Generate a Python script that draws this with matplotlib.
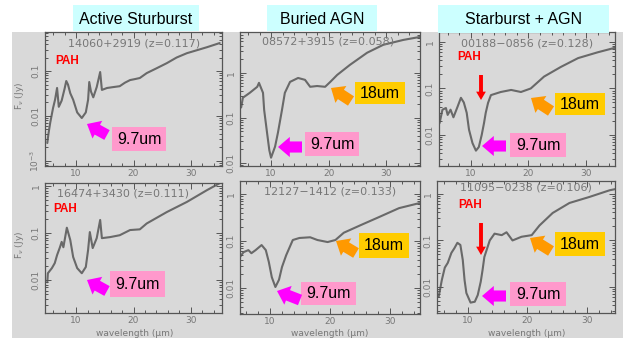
import matplotlib
matplotlib.use('Agg')
import matplotlib.pyplot as plt
from matplotlib.patches import Rectangle, FancyArrowPatch
from matplotlib.ticker import FixedLocator, LogLocator, MultipleLocator, FuncFormatter, NullFormatter

# ---------------- data ----------------
group_titles = ["Active Sturburst", "Buried AGN", "Starburst + AGN"]
panel_names = ["14060+2919 (z=0.117)", "08572+3915 (z=0.058)", "00188\u22120856 (z=0.128)",
               "16474+3430 (z=0.111)", "12127\u22121412 (z=0.133)", "11095\u22120238 (z=0.106)"]

lam1 = [5.0, 5.2, 5.5, 6.0, 6.35, 6.7, 7.0, 7.5, 8.0, 8.3, 8.6, 9.0, 9.5, 10.2, 11.0, 11.7, 12.1, 12.3,
        12.6, 13.0, 13.6, 14.2, 14.5, 15.4, 16.5, 17.6, 18.5, 19.4, 20.2, 21.1, 22.3, 24.0, 25.8, 27.5,
        29.3, 31.0, 32.8, 35.0]
flux1 = [0.0025, 0.004, 0.007, 0.015, 0.023, 0.042, 0.016, 0.022, 0.04, 0.06, 0.05, 0.032, 0.023, 0.012,
         0.009, 0.012, 0.023, 0.057, 0.035, 0.026, 0.044, 0.095, 0.038, 0.042, 0.044, 0.046, 0.055, 0.063,
         0.066, 0.07, 0.09, 0.115, 0.15, 0.2, 0.25, 0.29, 0.34, 0.42]

lam2 = [4.8, 5.1, 6.3, 7.6, 7.9, 8.6, 8.8, 9.3, 9.7, 10.0, 10.7, 11.2, 11.9, 12.4, 13.3, 14.7, 15.9,
        16.8, 18.0, 19.4, 20.3, 21.5, 23.7, 26.7, 29.5, 33.0, 35.9]
flux2 = [0.17, 0.28, 0.36, 0.49, 0.6, 0.36, 0.15, 0.047, 0.019, 0.013, 0.023, 0.047, 0.15, 0.36, 0.63,
         0.77, 0.7, 0.49, 0.51, 0.49, 0.63, 0.9, 1.5, 2.8, 4.2, 5.4, 6.3]

lam3 = [4.6, 5.1, 5.7, 6.0, 6.5, 7.0, 7.7, 8.3, 8.8, 9.3, 9.7, 10.3, 10.9, 11.4, 11.9, 12.3, 12.6, 13.0,
        13.5, 15.2, 17.0, 18.7, 20.4, 22.7, 25.6, 28.6, 32.0, 35.5]
flux3 = [0.018, 0.035, 0.038, 0.027, 0.035, 0.024, 0.04, 0.063, 0.05, 0.03, 0.013, 0.0067, 0.0046, 0.0055,
         0.01, 0.018, 0.03, 0.049, 0.072, 0.084, 0.093, 0.084, 0.1, 0.18, 0.29, 0.45, 0.6, 0.78]

lam4 = [5.0, 5.1, 5.8, 6.3, 6.7, 7.2, 7.5, 7.8, 8.4, 9.0, 9.5, 10.2, 11.0, 11.7, 12.1, 12.4, 12.9, 13.6,
        14.2, 14.5, 15.9, 17.6, 19.4, 21.1, 22.3, 25.8, 29.3, 32.8, 35.0]
flux4 = [0.009, 0.014, 0.018, 0.023, 0.034, 0.05, 0.065, 0.05, 0.13, 0.071, 0.031, 0.018, 0.014, 0.019,
         0.044, 0.105, 0.048, 0.078, 0.19, 0.078, 0.082, 0.09, 0.116, 0.12, 0.16, 0.28, 0.46, 0.82, 1.15]

lam5 = [4.9, 5.6, 6.4, 6.9, 7.6, 8.6, 9.3, 9.8, 10.3, 10.9, 11.5, 12.0, 12.7, 13.8, 14.9, 16.7, 17.9,
        19.6, 20.9, 22.3, 25.2, 28.1, 31.5, 34.9]
flux5 = [0.044, 0.058, 0.064, 0.055, 0.064, 0.082, 0.064, 0.036, 0.017, 0.0105, 0.015, 0.028, 0.05, 0.105,
         0.116, 0.12, 0.105, 0.095, 0.105, 0.15, 0.22, 0.32, 0.5, 0.64]

lam6 = [5.2, 5.7, 6.2, 6.7, 7.3, 7.8, 8.3, 8.8, 9.2, 9.5, 9.8, 10.5, 11.2, 11.7, 12.2, 12.5, 12.8, 13.7,
        14.5, 15.7, 16.5, 17.5, 19.0, 20.7, 22.0, 24.2, 27.0, 30.3, 33.7, 35.0]
flux6 = [0.0063, 0.014, 0.026, 0.033, 0.054, 0.068, 0.089, 0.08, 0.038, 0.014, 0.0074, 0.0046, 0.0048,
         0.0067, 0.013, 0.023, 0.044, 0.1, 0.14, 0.13, 0.15, 0.1, 0.12, 0.13, 0.21, 0.39, 0.64, 0.86, 1.2, 1.3]

spectra = [(lam1, flux1), (lam2, flux2), (lam3, flux3), (lam4, flux4), (lam5, flux5), (lam6, flux6)]

xlims = [(4.6, 35.4), (4.6, 35.9), (4.5, 35.0), (4.6, 35.4), (5.0, 35.0), (4.9, 34.6)]
ylims = [(7.7e-4, 0.74), (0.0085, 8.1), (0.00215, 1.64), (0.0020, 1.16), (0.0028, 1.89), (0.00275, 1.9)]
yticks = [[1e-3, 1e-2, 1e-1], [1e-2, 1e-1, 1], [1e-2, 1e-1, 1], [1e-2, 1e-1, 1], [1e-2, 1e-1, 1], [1e-2, 1e-1, 1]]
ytick_text = {1: "1", 0.1: "0.1", 0.01: "0.01", 0.001: "10$^{-3}$"}

# ---------------- layout ----------------
W, H = 623, 338
fig = plt.figure(figsize=(6.23, 3.38), dpi=100)
fig.patch.set_facecolor('white')

BG = '#d9d9d9'
AX_COL = '#555555'
TXT_COL = '#777777'
PINK_BOX = '#ff99cc'
MAGENTA = '#ff00ff'
ORANGE_BOX = '#ffcc00'
ORANGE = '#ff9900'
CYAN = '#ccffff'


def fb(x0, y0, x1, y1):
    return [x0 / W, 1 - y1 / H, (x1 - x0) / W, (y1 - y0) / H]


def fp(x, y):
    return (x / W, 1 - y / H)


fig.add_artist(Rectangle(fp(12, 338), (W - 12) / W, (338 - 32) / H, transform=fig.transFigure,
                         facecolor=BG, edgecolor='none', zorder=0))

boxes = [(45, 32, 222, 166), (240, 32, 420, 166), (439, 32, 615, 166),
         (45, 183, 222, 313), (240, 181, 420, 314), (437, 181, 615, 313)]
name_pos = [(134, 43), (328, 42), (527, 43), (123, 193), (330, 192), (526, 187)]

for i, (bx, (lam, flux)) in enumerate(zip(boxes, spectra)):
    ax = fig.add_axes(fb(*bx))
    ax.set_facecolor(BG)
    ax.plot(lam, flux, color='#555555', lw=1.5, alpha=0.85, zorder=3,
            solid_joinstyle='round', solid_capstyle='round')
    ax.set_yscale('log')
    ax.set_xlim(*xlims[i])
    ax.set_ylim(*ylims[i])
    ax.xaxis.set_major_locator(FixedLocator([10, 20, 30]))
    ax.xaxis.set_minor_locator(MultipleLocator(2))
    ax.yaxis.set_major_locator(FixedLocator(yticks[i]))
    ax.yaxis.set_minor_locator(LogLocator(base=10, subs=range(2, 10)))
    ax.yaxis.set_minor_formatter(NullFormatter())
    ax.yaxis.set_major_formatter(FuncFormatter(lambda v, p: ytick_text.get(round(v, 4), "")))
    ax.tick_params(which='both', direction='in', top=True, right=True, colors=AX_COL,
                   labelcolor=TXT_COL, labelsize=6.5, width=0.7)
    ax.tick_params(which='major', length=4)
    ax.tick_params(which='minor', length=2)
    ax.tick_params(axis='x', pad=2.5)
    ax.tick_params(axis='y', pad=3)
    for lab in ax.get_yticklabels():
        lab.set_rotation(90)
        lab.set_va('center')
    for s in ax.spines.values():
        s.set_color(AX_COL)
        s.set_linewidth(0.9)
    fig.text(*fp(*name_pos[i]), panel_names[i], fontsize=8, color=TXT_COL, ha='center', va='center')

# y labels and x labels
for yc in (96, 245):
    fig.text(*fp(20, yc), 'F$_\\nu$ (Jy)', rotation=90, fontsize=6.5, color=TXT_COL,
             ha='center', va='center')
for xc in (135, 330, 527):
    fig.text(*fp(xc, 334), 'wavelength (\u03bcm)', fontsize=6.5, color=TXT_COL, ha='center', va='center')

# group titles
title_boxes = [(73, 5, 199, 31), (267, 5, 377, 31), (438, 5, 609, 33)]
for t, (x0, y0, x1, y1) in zip(group_titles, title_boxes):
    fig.add_artist(Rectangle(fp(x0, y1), (x1 - x0) / W, (y1 - y0) / H, transform=fig.transFigure,
                             facecolor=CYAN, edgecolor='none', zorder=5))
    fig.text(*fp((x0 + x1) / 2, (y0 + y1) / 2 + 1), t, fontsize=11.5, family='Liberation Sans',
             ha='center', va='center', zorder=6)


def label_box(x0, y0, x1, y1, text, fc):
    fig.add_artist(Rectangle(fp(x0, y1), (x1 - x0) / W, (y1 - y0) / H, transform=fig.transFigure,
                             facecolor=fc, edgecolor='none', zorder=7))
    fig.text(*fp((x0 + x1) / 2, (y0 + y1) / 2 + 0.5), text, fontsize=11.5, family='Liberation Sans',
             ha='center', va='center', zorder=8)


def block_arrow(tail, tip, color, style):
    fig.add_artist(FancyArrowPatch(fp(*tail), fp(*tip), transform=fig.transFigure,
                                   arrowstyle=style, mutation_scale=10, color=color,
                                   shrinkA=0, shrinkB=0, lw=0, zorder=7))


BIG = 'simple,head_length=0.85,head_width=1.45,tail_width=0.8'
THIN = 'simple,head_length=0.6,head_width=0.7,tail_width=0.28'

# 9.7um labels
for bx, tail, tip in [((112, 127, 166, 151), (107, 135), (87, 124)),
                      ((305, 132, 359, 156), (302, 147), (278, 147)),
                      ((510, 133, 566, 157), (506, 146), (482, 146)),
                      ((110, 271, 165, 297), (107, 291), (87, 280)),
                      ((301, 282, 356, 305), (300, 300), (277, 291)),
                      ((510, 282, 566, 306), (506, 296), (482, 296))]:
    label_box(*bx, '9.7um', PINK_BOX)
    block_arrow(tail, tip, MAGENTA, BIG)

# 18um labels
for bx, tail, tip in [((355, 82, 405, 104), (351, 101), (331, 88)),
                      ((555, 93, 605, 115), (551, 111), (531, 98)),
                      ((359, 233, 409, 258), (356, 253), (336, 241)),
                      ((555, 232, 605, 256), (551, 251), (530, 238))]:
    label_box(*bx, '18um', ORANGE_BOX)
    block_arrow(tail, tip, ORANGE, BIG)

# PAH labels
for pos in [(67, 61), (469, 57), (65, 209), (470, 205)]:
    fig.text(*fp(*pos), 'PAH', fontsize=8.5, fontweight='bold', color='#ff0000',
             family='Liberation Sans', ha='center', va='center', zorder=8)
for tail, tip in [((481, 75), (481, 100)), ((481, 223), (481, 255))]:
    block_arrow(tail, tip, '#ff0000', THIN)

fig.savefig('out.png', dpi=100, facecolor='white')
